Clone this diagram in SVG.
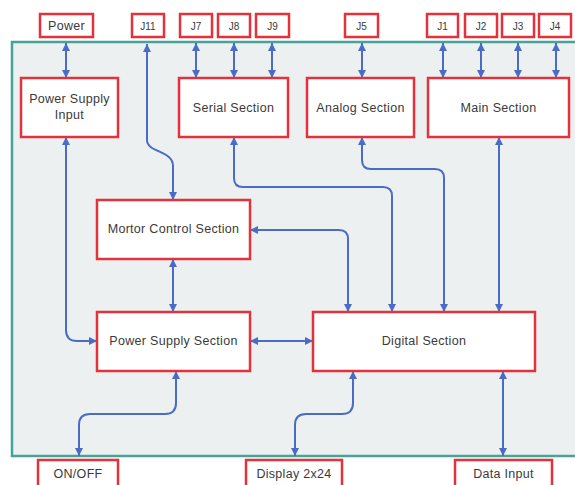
<svg xmlns="http://www.w3.org/2000/svg" width="575" height="485" viewBox="0 0 575 485">
<defs>
<marker id="ah" viewBox="0 0 10 10" refX="10" refY="5" markerUnits="userSpaceOnUse" markerWidth="9" markerHeight="8" orient="auto-start-reverse">
<path d="M0,0 L10,5 L0,10 z" fill="#4a6cc6"/>
</marker>
<style>
.box{fill:#ffffff;stroke:#e4323c;stroke-width:2.5}
.t{font-family:"Liberation Sans",Arial,sans-serif;font-size:12.5px;fill:#3a3a3a;text-anchor:middle;letter-spacing:0.3px}
.s{font-family:"Liberation Sans",Arial,sans-serif;font-size:10px;fill:#3a3a3a;text-anchor:middle}
.c{fill:none;stroke:#4a6cc6;stroke-width:2;marker-start:url(#ah);marker-end:url(#ah)}
</style>
</defs>
<rect width="575" height="485" fill="#ffffff"/>
<rect id="board" x="12" y="42" width="580" height="414" fill="#edf0f0" stroke="#45a497" stroke-width="2.5"/>

<g id="connectors">
<path class="c" d="M66,43 V78"/>
<path class="c" d="M196,43 V78"/>
<path class="c" d="M234,43 V78"/>
<path class="c" d="M272,43 V78"/>
<path class="c" d="M362,43 V78"/>
<path class="c" d="M443,43 V78"/>
<path class="c" d="M481,43 V78"/>
<path class="c" d="M518,43 V78"/>
<path class="c" d="M556,43 V78"/>
<path class="c" d="M147,44 V140 C147,153 173,150 173,166 V200"/>
<path class="c" d="M66,137 V330 Q66,341 77,341 H97"/>
<path class="c" d="M234,137 V178 Q234,187 243,187 H383 Q392,187 392,196 V312"/>
<path class="c" d="M362,137 V160 Q362,169 371,169 H435 Q444,169 444,178 V312"/>
<path class="c" d="M499,137 V312"/>
<path class="c" d="M250,230 H339 Q348,230 348,239 V312"/>
<path class="c" d="M173,259 V312"/>
<path class="c" d="M250,341 H313"/>
<path class="c" d="M176,371 V403 Q176,414 165,414 H90 Q79,414 79,425 V456"/>
<path class="c" d="M353,371 V403 Q353,414 342,414 H306 Q295,414 295,425 V456"/>
<path class="c" d="M503,371 V456"/>
</g>

<g id="power"><rect class="box" x="40" y="14" width="53" height="23"/><text class="t" x="66.5" y="30">Power</text></g>
<g id="j11"><rect class="box" x="132" y="14" width="32" height="23"/><text class="s" x="148" y="29.5">J11</text></g>
<g id="j7"><rect class="box" x="180" y="14" width="32" height="23"/><text class="s" x="196" y="29.5">J7</text></g>
<g id="j8"><rect class="box" x="218" y="14" width="32" height="23"/><text class="s" x="234" y="29.5">J8</text></g>
<g id="j9"><rect class="box" x="256" y="14" width="33" height="23"/><text class="s" x="272.5" y="29.5">J9</text></g>
<g id="j5"><rect class="box" x="345" y="14" width="33" height="23"/><text class="s" x="361.5" y="29.5">J5</text></g>
<g id="j1"><rect class="box" x="427" y="14" width="31" height="23"/><text class="s" x="442.5" y="29.5">J1</text></g>
<g id="j2"><rect class="box" x="465" y="14" width="32" height="23"/><text class="s" x="481" y="29.5">J2</text></g>
<g id="j3"><rect class="box" x="502" y="14" width="32" height="23"/><text class="s" x="518" y="29.5">J3</text></g>
<g id="j4"><rect class="box" x="539" y="14" width="32" height="23"/><text class="s" x="555" y="29.5">J4</text></g>

<g id="psi"><rect class="box" x="21" y="78" width="97" height="59"/><text class="t" x="69.5" y="103">Power Supply</text><text class="t" x="69.5" y="119">Input</text></g>
<g id="serial"><rect class="box" x="179" y="78" width="109" height="59"/><text class="t" x="233.5" y="112">Serial Section</text></g>
<g id="analog"><rect class="box" x="307" y="78" width="107" height="59"/><text class="t" x="360.5" y="112">Analog Section</text></g>
<g id="main"><rect class="box" x="428" y="78" width="141" height="59"/><text class="t" x="498.5" y="112">Main Section</text></g>
<g id="motor"><rect class="box" x="97" y="200" width="153" height="59"/><text class="t" x="173.5" y="233">Mortor Control Section</text></g>
<g id="pss"><rect class="box" x="97" y="312" width="153" height="59"/><text class="t" x="173.5" y="345">Power Supply Section</text></g>
<g id="digital"><rect class="box" x="313" y="312" width="222" height="59"/><text class="t" x="424" y="345">Digital Section</text></g>

<g id="onoff"><rect class="box" x="38" y="460" width="80" height="32"/><text class="t" x="78" y="478">ON/OFF</text></g>
<g id="display"><rect class="box" x="246" y="460" width="96" height="32"/><text class="t" x="294" y="478">Display 2x24</text></g>
<g id="datainput"><rect class="box" x="455" y="460" width="97" height="32"/><text class="t" x="503.5" y="478">Data Input</text></g>
</svg>
